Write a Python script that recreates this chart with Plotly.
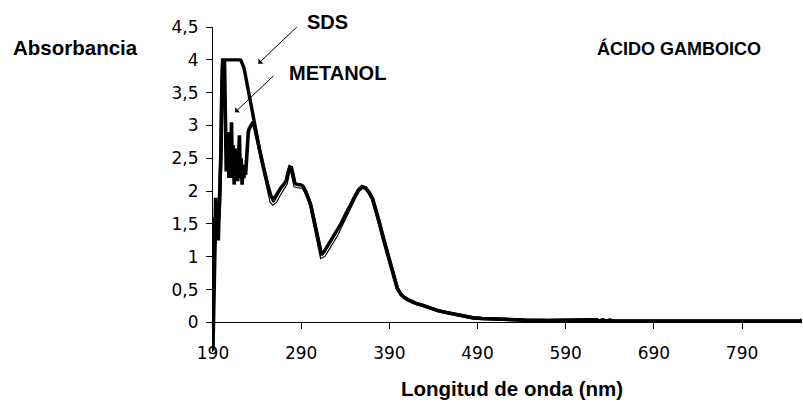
import plotly.graph_objects as go

# Wavelength grid (nm): 1 nm steps through the noisy UV edge, coarser afterwards
wavelength = [
    190, 191, 192, 193, 194, 195, 196, 197, 198, 199,
    200, 201, 202, 203, 204, 205, 206, 207, 208, 209,
    210, 211, 212, 213, 214, 215, 216, 217, 218, 219,
    220, 221, 222, 223, 224, 225, 226, 227, 228, 229,
    230, 231, 232, 233, 234, 235, 236, 237, 238, 239, 240,
    242, 244, 247, 250, 253, 256, 258, 261, 264, 267,
    270, 273, 275, 277, 279, 281, 283, 286, 289, 292,
    295, 298, 301, 304, 307, 310, 313, 316, 320, 325,
    330, 335, 340, 345, 350, 355, 359, 363, 367, 371,
    375, 379, 383, 387, 391, 395, 399, 403, 407, 412,
    420, 428, 436, 445, 455, 465, 475, 485, 495, 510,
    525, 545, 570, 600, 620, 625, 628, 632, 636, 640,
    645, 650, 660, 680, 700, 750, 800, 850, 856, 858,
]

# Absorbance in SDS
abs_sds = [
    -0.43, 0.20, 1.00, 1.60, 1.30, 1.55, 1.80, 1.60, 2.10, 2.60,
    3.60, 4.00, 4.00, 4.00, 4.00, 4.00, 4.00, 4.00, 4.00, 4.00,
    4.00, 4.00, 4.00, 4.00, 4.00, 4.00, 4.00, 4.00, 4.00, 4.00,
    4.00, 4.00, 3.98, 3.95, 3.92, 3.88, 3.82, 3.75, 3.68, 3.61,
    3.54, 3.46, 3.38, 3.30, 3.21, 3.14, 3.07, 3.00, 2.93, 2.86, 2.80,
    2.67, 2.55, 2.37, 2.20, 2.05, 1.92, 1.88, 1.92, 1.99, 2.05,
    2.10, 2.16, 2.28, 2.37, 2.36, 2.22, 2.12, 2.10, 2.10, 2.08,
    2.00, 1.90, 1.78, 1.60, 1.40, 1.20, 1.05, 1.08, 1.17, 1.27,
    1.37, 1.50, 1.64, 1.77, 1.90, 2.02, 2.07, 2.05, 1.98, 1.88,
    1.70, 1.50, 1.28, 1.08, 0.90, 0.68, 0.52, 0.43, 0.38, 0.34,
    0.29, 0.26, 0.22, 0.18, 0.15, 0.12, 0.09, 0.07, 0.06, 0.05,
    0.04, 0.035, 0.03, 0.03, 0.03, 0.04, 0.02, 0.04, 0.02, 0.035,
    0.02, 0.02, 0.015, 0.01, 0.01, 0.01, 0.01, 0.01, 0.02, 0.04,
]

# Absorbance in methanol
abs_metanol = [
    0.30, 1.60, 1.20, 1.90, 1.35, 1.80, 1.25, 1.65, 2.00, 2.60,
    3.50, 4.00, 3.60, 4.00, 3.20, 2.30, 2.55, 2.90, 2.20, 2.60,
    2.25, 3.05, 2.20, 2.70, 2.10, 2.50, 2.20, 2.65, 2.15, 2.40,
    2.85, 2.20, 2.50, 2.10, 2.30, 2.20, 2.40, 2.25, 2.50, 2.75,
    2.90, 2.95, 2.98, 3.00, 3.02, 3.04, 3.04, 3.00, 2.93, 2.86, 2.80,
    2.67, 2.55, 2.37, 2.20, 2.03, 1.84, 1.81, 1.84, 1.92, 1.99,
    2.05, 2.12, 2.25, 2.35, 2.34, 2.20, 2.08, 2.07, 2.07, 2.06,
    2.00, 1.90, 1.78, 1.58, 1.37, 1.17, 1.00, 1.02, 1.11, 1.22,
    1.33, 1.47, 1.62, 1.76, 1.89, 2.01, 2.06, 2.05, 1.98, 1.88,
    1.70, 1.50, 1.28, 1.08, 0.90, 0.68, 0.52, 0.43, 0.38, 0.34,
    0.29, 0.26, 0.22, 0.18, 0.15, 0.12, 0.09, 0.07, 0.06, 0.05,
    0.04, 0.035, 0.03, 0.03, 0.03, 0.04, 0.02, 0.04, 0.02, 0.035,
    0.02, 0.02, 0.015, 0.01, 0.01, 0.01, 0.01, 0.01, 0.02, 0.04,
]

assert len(wavelength) == len(abs_sds) == len(abs_metanol)

x_ticks = [190, 290, 390, 490, 590, 690, 790]
y_ticks = [0, 0.5, 1, 1.5, 2, 2.5, 3, 3.5, 4, 4.5]
y_tick_text = ["0", "0,5", "1", "1,5", "2", "2,5", "3", "3,5", "4", "4,5"]

X_RANGE = [190, 858]
Y_RANGE = [-0.45, 4.5]

# index from which the methanol trace is drawn as an outlined (hollow) stroke
smooth_start = wavelength.index(240)

FONT = "Liberation Sans, Arial, sans-serif"
TICK_FONT = "DejaVu Sans, sans-serif"

fig = go.Figure()

# Methanol: black stroke with a white core in the smooth part of the spectrum
fig.add_trace(go.Scatter(
    x=wavelength, y=abs_metanol, mode="lines", name="METANOL",
    line=dict(color="black", width=3.6), showlegend=False, hoverinfo="skip",
))
fig.add_trace(go.Scatter(
    x=wavelength[smooth_start:], y=abs_metanol[smooth_start:], mode="lines",
    line=dict(color="white", width=1.2), showlegend=False, hoverinfo="skip",
))
# SDS: heavy black line on top
fig.add_trace(go.Scatter(
    x=wavelength, y=abs_sds, mode="lines", name="SDS",
    line=dict(color="black", width=3.4), showlegend=False,
))

# zero level of the absorbance axis, as a fraction of the plot height
zero_pos = (0 - Y_RANGE[0]) / (Y_RANGE[1] - Y_RANGE[0])

fig.update_layout(
    width=803, height=404,
    margin=dict(l=213, r=1, t=27, b=52),
    paper_bgcolor="white", plot_bgcolor="white",
    font=dict(family=FONT, color="black", size=16),
    xaxis=dict(
        range=X_RANGE, anchor="free", position=zero_pos,
        showline=True, linecolor="black", linewidth=1,
        ticks="outside", ticklen=6, tickcolor="black", tickwidth=1,
        tickvals=x_ticks, ticktext=[str(v) for v in x_ticks],
        tickfont=dict(family=TICK_FONT, size=17),
        ticklabelstandoff=9,
        showgrid=False, zeroline=False,
    ),
    yaxis=dict(
        range=Y_RANGE,
        showline=True, linecolor="black", linewidth=1,
        ticks="outside", ticklen=6, tickcolor="black", tickwidth=1,
        tickvals=y_ticks, ticktext=y_tick_text,
        tickfont=dict(family=TICK_FONT, size=17),
        ticklabelstandoff=4,
        showgrid=False, zeroline=False,
    ),
)

labels = [
    dict(text="<b>Absorbancia</b>", x=-0.2334, y=0.9374, size=20.5),
    dict(text="<b>SDS</b>", x=0.1952, y=1.0141, size=20),
    dict(text="<b>METANOL</b>", x=0.2114, y=0.8591, size=20),
    dict(text="<b>ÁCIDO GAMBOICO</b>", x=0.7912, y=0.9343, size=18),
    dict(text="<b>Longitud de onda (nm)</b>", x=0.5076, y=-0.1125, size=20.5),
]
for lab in labels:
    fig.add_annotation(
        text=lab["text"], x=lab["x"], y=lab["y"], xref="paper", yref="paper",
        showarrow=False, xanchor="center", yanchor="middle",
        font=dict(family=FONT, size=lab["size"], color="black"),
    )

# pointer arrows from the series names to their curves
for hx, hy in [(0.0769, 0.8873), (0.0374, 0.7375)]:
    fig.add_annotation(
        text="", x=hx, y=hy, xref="paper", yref="paper",
        showarrow=True, ax=40, ay=-38, axref="pixel", ayref="pixel",
        arrowhead=1, arrowsize=1.2, arrowwidth=1, arrowcolor="black",
    )

fig.write_html("out.html")
